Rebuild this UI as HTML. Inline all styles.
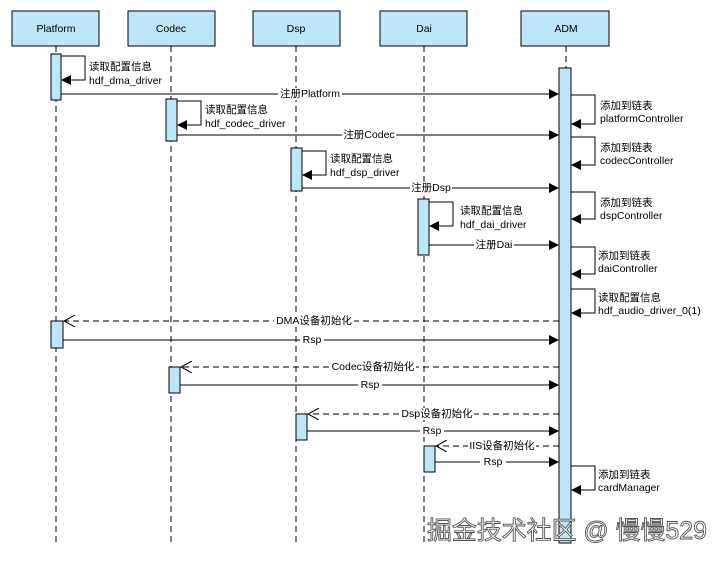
<!DOCTYPE html>
<html><head><meta charset="utf-8"><style>
body{margin:0;background:#fff;}
svg text{font-family:"Liberation Sans","Noto Sans CJK SC",sans-serif;font-size:10.5px;fill:#000;}
</style></head><body>
<svg width="720" height="556" xmlns="http://www.w3.org/2000/svg">
<defs>
<marker id="f" markerWidth="10" markerHeight="10" refX="9" refY="5" orient="auto" markerUnits="userSpaceOnUse"><path d="M0,0 L10,5 L0,10 Z" fill="#000"/></marker>
<marker id="o" markerWidth="12" markerHeight="12" refX="11" refY="6" orient="auto" markerUnits="userSpaceOnUse"><path d="M0,0 L11,6 L0,12" fill="none" stroke="#000"/></marker>
</defs>
<g stroke="#000" stroke-dasharray="6,4" stroke-width="1">
<line x1="56" y1="46" x2="56" y2="545"/><line x1="171" y1="46" x2="171" y2="545"/>
<line x1="296" y1="46" x2="296" y2="545"/><line x1="424" y1="46" x2="424" y2="545"/>
<line x1="566" y1="46" x2="566" y2="545"/>
</g>
<g fill="#bde6f9" stroke="#000">
<rect x="12" y="11" width="87" height="35"/><rect x="128" y="11" width="87" height="35"/>
<rect x="253" y="11" width="87" height="35"/><rect x="380" y="11" width="87" height="35"/>
<rect x="521" y="11" width="88" height="35"/>
</g>
<g text-anchor="middle">
<text x="56" y="32">Platform</text><text x="171" y="32">Codec</text><text x="296" y="32">Dsp</text><text x="424" y="32">Dai</text><text x="566" y="32">ADM</text>
</g>
<g fill="#bde6f9" stroke="#000">
<rect x="51" y="54" width="10" height="46"/><rect x="166" y="99" width="11" height="42"/>
<rect x="291" y="148" width="11" height="43"/><rect x="418" y="199" width="11" height="56"/>
<rect x="559" y="68" width="12" height="475"/>
<rect x="51" y="321" width="12" height="27"/><rect x="169" y="367" width="11" height="26"/>
<rect x="296" y="414" width="11" height="26"/><rect x="424" y="446" width="11" height="26"/>
</g>
<g fill="none" stroke="#000">
<polyline points="61,56 85,56 85,80 62,80" marker-end="url(#f)"/>
<polyline points="177,101 201,101 201,125 178,125" marker-end="url(#f)"/>
<polyline points="302,151 326,151 326,175 303,175" marker-end="url(#f)"/>
<polyline points="429,202 453,202 453,226 430,226" marker-end="url(#f)"/>
<polyline points="571,95 595,95 595,124 572,124" marker-end="url(#f)"/>
<polyline points="571,137 595,137 595,165 572,165" marker-end="url(#f)"/>
<polyline points="571,192 595,192 595,219 572,219" marker-end="url(#f)"/>
<polyline points="571,247 595,247 595,274 572,274" marker-end="url(#f)"/>
<polyline points="571,289 595,289 595,313 572,313" marker-end="url(#f)"/>
<polyline points="571,466 595,466 595,490 572,490" marker-end="url(#f)"/>
<line x1="61" y1="94" x2="558" y2="94" marker-end="url(#f)"/>
<line x1="177" y1="135" x2="558" y2="135" marker-end="url(#f)"/>
<line x1="302" y1="188" x2="558" y2="188" marker-end="url(#f)"/>
<line x1="429" y1="245" x2="558" y2="245" marker-end="url(#f)"/>
<line x1="63" y1="340" x2="558" y2="340" marker-end="url(#f)"/>
<line x1="180" y1="385" x2="558" y2="385" marker-end="url(#f)"/>
<line x1="307" y1="431" x2="558" y2="431" marker-end="url(#f)"/>
<line x1="435" y1="462" x2="558" y2="462" marker-end="url(#f)"/>
<g stroke-dasharray="6,4">
<line x1="559" y1="321" x2="64" y2="321" marker-end="url(#o)"/>
<line x1="559" y1="367" x2="181" y2="367" marker-end="url(#o)"/>
<line x1="559" y1="414" x2="308" y2="414" marker-end="url(#o)"/>
<line x1="559" y1="446" x2="436" y2="446" marker-end="url(#o)"/>
</g>
</g>
<text x="89" y="70">读取配置信息</text><text x="89" y="84">hdf_dma_driver</text>
<text x="205" y="113">读取配置信息</text><text x="205" y="127">hdf_codec_driver</text>
<text x="330" y="162">读取配置信息</text><text x="330" y="176">hdf_dsp_driver</text>
<text x="460" y="214">读取配置信息</text><text x="460" y="228">hdf_dai_driver</text>
<text x="600" y="109">添加到链表</text><text x="600" y="122">platformController</text>
<text x="600" y="151">添加到链表</text><text x="600" y="164">codecController</text>
<text x="600" y="206">添加到链表</text><text x="600" y="219">dspController</text>
<text x="598" y="259">添加到链表</text><text x="598" y="272">daiController</text>
<text x="598" y="301">读取配置信息</text><text x="598" y="314">hdf_audio_driver_0(1)</text>
<text x="598" y="478">添加到链表</text><text x="598" y="491">cardManager</text>
<g text-anchor="middle">
<rect x="278" y="88" width="64" height="12" fill="#fff"/><text x="310" y="97">注册Platform</text>
<rect x="342" y="129" width="54" height="12" fill="#fff"/><text x="369" y="138">注册Codec</text>
<rect x="410" y="182" width="42" height="12" fill="#fff"/><text x="431" y="191">注册Dsp</text>
<rect x="474" y="239" width="40" height="12" fill="#fff"/><text x="494" y="248">注册Dai</text>
<rect x="274" y="315" width="80" height="12" fill="#fff"/><text x="314" y="324">DMA设备初始化</text>
<rect x="300" y="334" width="24" height="12" fill="#fff"/><text x="312" y="343">Rsp</text>
<rect x="330" y="361" width="86" height="12" fill="#fff"/><text x="373" y="370">Codec设备初始化</text>
<rect x="358" y="379" width="24" height="12" fill="#fff"/><text x="370" y="388">Rsp</text>
<rect x="400" y="408" width="74" height="12" fill="#fff"/><text x="437" y="417">Dsp设备初始化</text>
<rect x="420" y="425" width="24" height="12" fill="#fff"/><text x="432" y="434">Rsp</text>
<rect x="468" y="440" width="68" height="12" fill="#fff"/><text x="502" y="449">IIS设备初始化</text>
<rect x="480" y="456" width="26" height="12" fill="#fff"/><text x="493" y="465">Rsp</text>
</g>
<text x="427" y="539" textLength="280" lengthAdjust="spacingAndGlyphs" style="font-size:25px;fill:#fff;stroke:#555;stroke-width:0.9">掘金技术社区 @ 慢慢529</text>
</svg>
</body></html>
